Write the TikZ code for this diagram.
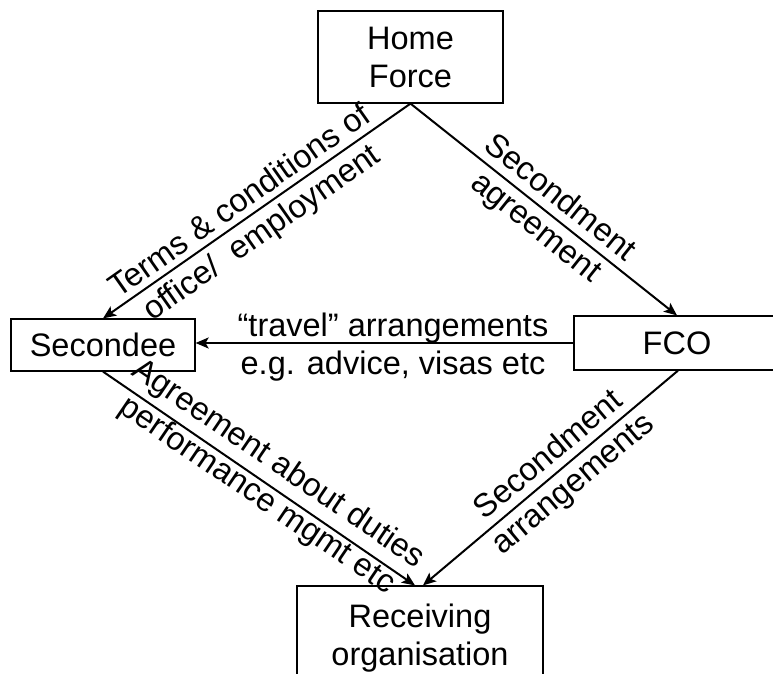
\documentclass[tikz,border=0pt]{standalone}
\usepackage{fontspec}
\setmainfont{Liberation Sans}
\usetikzlibrary{arrows.meta,calc}
\tikzset{
  box/.style={draw, line width=1.2pt, inner sep=0pt, align=center, font=\fontsize{32.5}{38}\selectfont},
  lab/.style={inner sep=0pt, align=center, font=\fontsize{32.5}{38}\selectfont},
  conn/.style={line width=2pt, -{Stealth[length=13pt,width=11pt,inset=3pt]}}
}
\begin{document}
\begin{tikzpicture}[x=1pt,y=-1pt]
\useasboundingbox (0,0) rectangle (773,674);
\clip (0,0) rectangle (773,674);
\fill[white] (0,0) rectangle (773,674);

\node[box, minimum width=185pt, minimum height=92pt] (hf) at (410.5,57) {Home\\Force};
\node[box, minimum width=184pt, minimum height=52pt] (sec) at (103,345) {Secondee};
\node[box, minimum width=206pt, minimum height=54pt] (fco) at (677,343) {FCO};
\node[box, minimum width=246pt, minimum height=104pt] (rec) at (420,638) {Receiving\\organisation};

\draw[conn] (hf.south) -- (sec.north);
\draw[conn] (hf.south) -- (fco.north);
\draw[conn] (fco.west) -- (fco.west -| sec.east);
\draw[conn] (sec.south) -- ([xshift=-5pt]rec.north);
\draw[conn] ([xshift=1pt]fco.south) -- ([xshift=3pt]rec.north);

\node[lab, rotate=35.1] (l1) at (252,219) {\strut Terms \& conditions of\\\strut office/\ \ employment};
\node[lab, rotate=-38.6] (l2) at (547,214) {\strut Secondment\\\strut agreement};
\node[lab] (l3) at (393,348) {\strut “travel” arrangements\\\strut e.g. advice, visas etc};
\node[lab, rotate=-34.2] (l4) at (267,481) {\strut Agreement about duties\\\strut performance mgmt etc};
\node[lab, rotate=40] (l5) at (562,471) {\strut Secondment\\\strut arrangements};
\end{tikzpicture}
\end{document}
